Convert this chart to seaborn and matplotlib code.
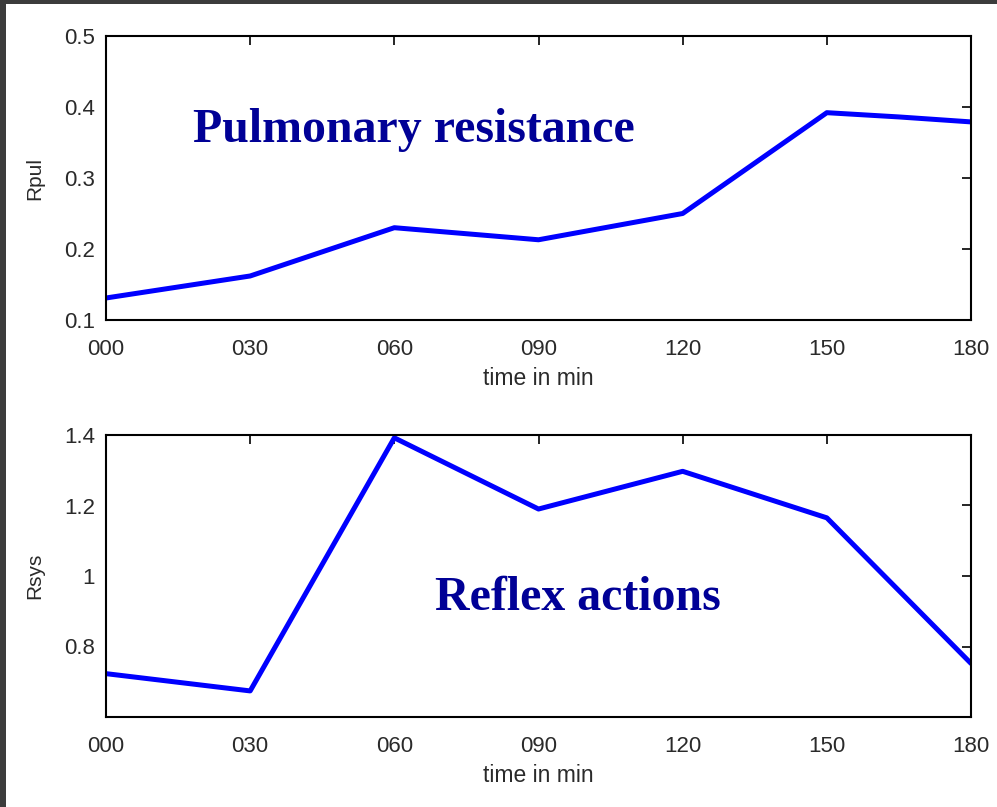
import matplotlib
matplotlib.use("Agg")
import matplotlib.pyplot as plt
from matplotlib.patches import Rectangle
import seaborn as sns
import pandas as pd

time_min = [0, 30, 60, 90, 120, 150, 165, 180]
rpul = [0.131, 0.162, 0.230, 0.213, 0.250, 0.392, 0.386, 0.379]
time_sys = [0, 30, 60, 90, 120, 150, 180]
rsys = [0.723, 0.674, 1.392, 1.190, 1.297, 1.165, 0.752]
xtick_vals = [0, 30, 60, 90, 120, 150, 180]
xtick_labels = ["000", "030", "060", "090", "120", "150", "180"]

sns.set_style("white")
plt.rcParams['font.family'] = ['Liberation Sans', 'DejaVu Sans']

fig = plt.figure(figsize=(9.97, 8.07), dpi=100)
fig.patch.set_facecolor('#3c3c3c')
bg = Rectangle((6/997, 0), 1, 1 - 4/807, transform=fig.transFigure,
               facecolor='white', edgecolor='none', zorder=-10)
fig.patches.append(bg)

ax1 = fig.add_axes([106/997, 1 - 320/807, 865/997, 284/807])
ax2 = fig.add_axes([106/997, 1 - 717/807, 865/997, 282/807])

df1 = pd.DataFrame({"t": time_min, "v": rpul})
df2 = pd.DataFrame({"t": time_sys, "v": rsys})
sns.lineplot(data=df1, x="t", y="v", ax=ax1, color="#0000ff", linewidth=3.6)
sns.lineplot(data=df2, x="t", y="v", ax=ax2, color="#0000ff", linewidth=3.6)

ax1.set_ylim(0.1, 0.5)
ax1.set_yticks([0.1, 0.2, 0.3, 0.4, 0.5])
ax1.set_yticklabels(["0.1", "0.2", "0.3", "0.4", "0.5"])
ax2.set_ylim(0.6, 1.4)
ax2.set_yticks([0.8, 1.0, 1.2, 1.4])
ax2.set_yticklabels(["0.8", "1", "1.2", "1.4"])

for ax, yl in [(ax1, "Rpul"), (ax2, "Rsys")]:
    ax.set_facecolor('white')
    ax.set_xlim(0, 180)
    ax.set_xticks(xtick_vals)
    ax.set_xticklabels(xtick_labels)
    ax.tick_params(direction='in', length=6.5, width=1.2, top=True, right=True,
                   labelsize=16, colors='black')
    ax.tick_params(axis='x', pad=14)
    ax.tick_params(axis='y', pad=8)
    ax.tick_params(axis='both', labelcolor='#2a2a2a')
    for s in ax.spines.values():
        s.set_visible(True)
        s.set_color('black')
        s.set_linewidth(1.5)
    ax.set_xlabel("time in min", fontsize=16.5, color='#2a2a2a', labelpad=5)
    ax.set_ylabel(yl, fontsize=15, color='#2a2a2a', labelpad=14)

fig.text(193/997, 1 - 142/807, "Pulmonary resistance",
         fontsize=34.5, fontweight='bold', color='#000096',
         family=['Liberation Serif', 'DejaVu Serif'], va='baseline', ha='left')
fig.text(435/997, 1 - 610/807, "Reflex actions",
         fontsize=34.5, fontweight='bold', color='#000096',
         family=['Liberation Serif', 'DejaVu Serif'], va='baseline', ha='left')

fig.savefig("out.png", dpi=100, facecolor=fig.get_facecolor())
